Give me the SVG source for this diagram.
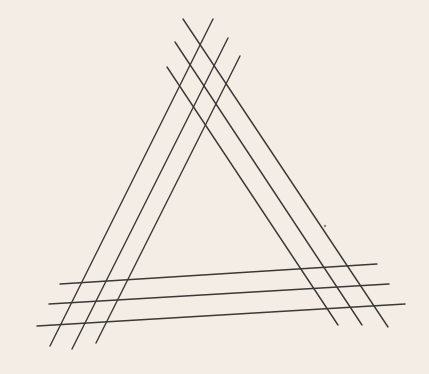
<svg xmlns="http://www.w3.org/2000/svg" width="429" height="374" viewBox="0 0 429 374">
<style>
.ln{stroke:#3b3838;stroke-width:1.4;stroke-linecap:round;fill:none}
</style>
<rect x="0" y="0" width="429" height="374" fill="#f4ede6"/>
<g id="connectors">
<line class="ln" x1="213" y1="19" x2="50" y2="346"/>
<line class="ln" x1="228" y1="38" x2="72" y2="349"/>
<line class="ln" x1="240" y1="56" x2="96" y2="343"/>
<line class="ln" x1="183" y1="19" x2="388" y2="327"/>
<line class="ln" x1="175" y1="42" x2="362" y2="325"/>
<line class="ln" x1="167" y1="67" x2="338" y2="325"/>
<line class="ln" x1="60" y1="284" x2="377" y2="264"/>
<line class="ln" x1="49" y1="304" x2="389" y2="284"/>
<line class="ln" x1="37" y1="326" x2="405" y2="304"/>
</g>
<circle cx="325" cy="226" r="1.2" fill="#8a8580"/>
</svg>
